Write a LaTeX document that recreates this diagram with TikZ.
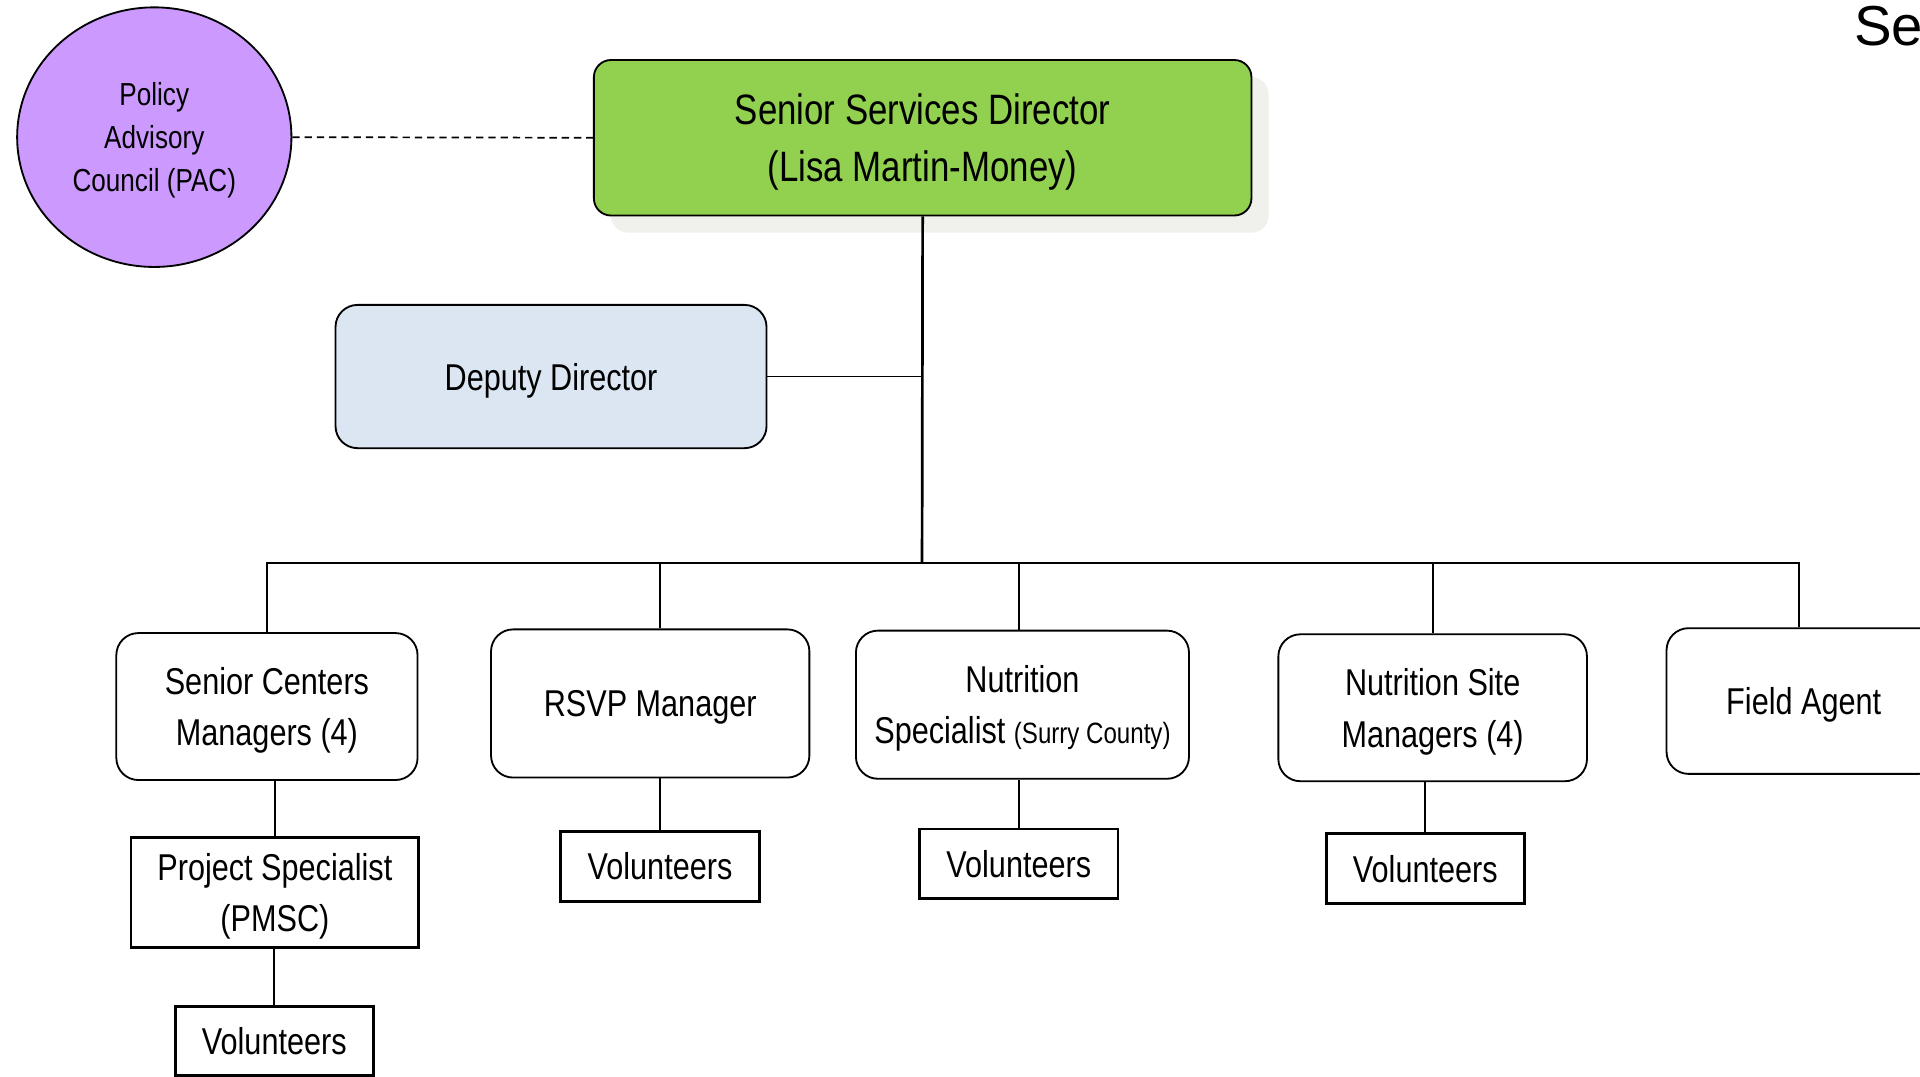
\documentclass[tikz,border=0pt]{standalone}
\usepackage{fontspec}
\setmainfont{Liberation Sans}[FakeStretch=0.82]
\newfontfamily\widefont{Liberation Sans}
\usetikzlibrary{shapes.geometric,shadows}
\definecolor{pacc}{HTML}{CC99FF}
\definecolor{dirc}{HTML}{92D050}
\definecolor{depc}{HTML}{DCE6F2}
\definecolor{shadc}{HTML}{F0F0EC}
\tikzset{
  boxtext/.style={font=\fontsize{30.5}{42}\selectfont, align=center, inner sep=0pt, text depth=0pt},
  rbox/.style={boxtext, draw=black, line width=1.5pt, rounded corners=18pt, fill=white},
  sbox/.style={boxtext, draw=black, line width=2.4pt, fill=white},
  conn/.style={draw=black, line width=1.4pt},
}
\begin{document}
\begin{tikzpicture}[x=1pt,y=-1pt]
\useasboundingbox (0,0) rectangle (1568,879);
% PAC
\node[ellipse, draw=black, line width=1.5pt, fill=pacc, minimum width=224pt, minimum height=212pt, inner sep=0pt,
  font=\fontsize{26}{35}\selectfont, align=center, text depth=0pt] (pac) at (126,112) {Policy\\Advisory\\Council (PAC)};
% Director
\node[boxtext, font=\fontsize{34.7}{47}\selectfont, draw=black, line width=1.5pt, rounded corners=14pt, fill=dirc,
  minimum width=537pt, minimum height=127pt,
  drop shadow={shadow xshift=14pt, shadow yshift=-14pt, fill=shadc, opacity=1}] (dir) at (753.5,112.5)
  {Senior Services Director\\(Lisa Martin-Money)};
% Deputy
\node[rbox, fill=depc, minimum width=352pt, minimum height=117pt] (dep) at (450,307.5) {Deputy Director};
% Level 2
\node[rbox, minimum width=246pt, minimum height=120pt] (scm) at (218,577) {Senior Centers\\Managers (4)};
\node[rbox, minimum width=260pt, minimum height=121pt] (rsvp) at (531,574.5) {RSVP Manager};
\node[rbox, minimum width=272pt, minimum height=121pt] (nsp) at (835,575.5) {Nutrition\\Specialist {\fontsize{24}{30}\selectfont(Surry County)}};
\node[rbox, minimum width=252pt, minimum height=120pt] (nsm) at (1170,578) {Nutrition Site\\Managers (4)};
\node[rbox, minimum width=224pt, minimum height=119pt] (fa) at (1473,572.5) {Field Agent};
% Level 3
\node[sbox, minimum width=235pt, minimum height=90pt] (ps) at (224.5,729) {Project Specialist\\(PMSC)};
\node[sbox, minimum width=162pt, minimum height=56pt] (v1) at (224,850) {Volunteers};
\node[sbox, minimum width=162pt, minimum height=57pt] (v2) at (539,707.5) {Volunteers};
\node[sbox, minimum width=162pt, minimum height=57pt] (v3) at (832,705.5) {Volunteers};
\node[sbox, minimum width=162pt, minimum height=57pt] (v4) at (1164,709.5) {Volunteers};
% Title fragment
\node[font=\widefont\fontsize{46}{50}\selectfont, anchor=base west, inner sep=0pt] (ttl) at (1514,37) {Se};
% Connectors
\coordinate (bus) at (753,460);
\draw[dashed, line width=1.4pt, dash pattern=on 6pt off 4pt] (pac.east) -- (dir.west);
\draw[line width=2.2pt] (dir.south) -- (bus);
\draw[conn] (dep.east) -- (dep.east -| bus);
\draw[conn] (scm.north) |- (bus) -| ([xshift=-4pt]fa.north);
\draw[conn] ([xshift=8pt]rsvp.north) -- ([xshift=8pt]rsvp.north |- bus);
\draw[conn] ([xshift=-3pt]nsp.north) -- ([xshift=-3pt]nsp.north |- bus);
\draw[conn] (nsm.north) -- (nsm.north |- bus);
\draw[conn] (ps.north) -- (ps.north |- scm.south);
\draw[conn] (v1.north) -- (v1.north |- ps.south);
\draw[conn] (v2.north) -- (v2.north |- rsvp.south);
\draw[conn] (v3.north) -- (v3.north |- nsp.south);
\draw[conn] (v4.north) -- (v4.north |- nsm.south);
\end{tikzpicture}
\end{document}
